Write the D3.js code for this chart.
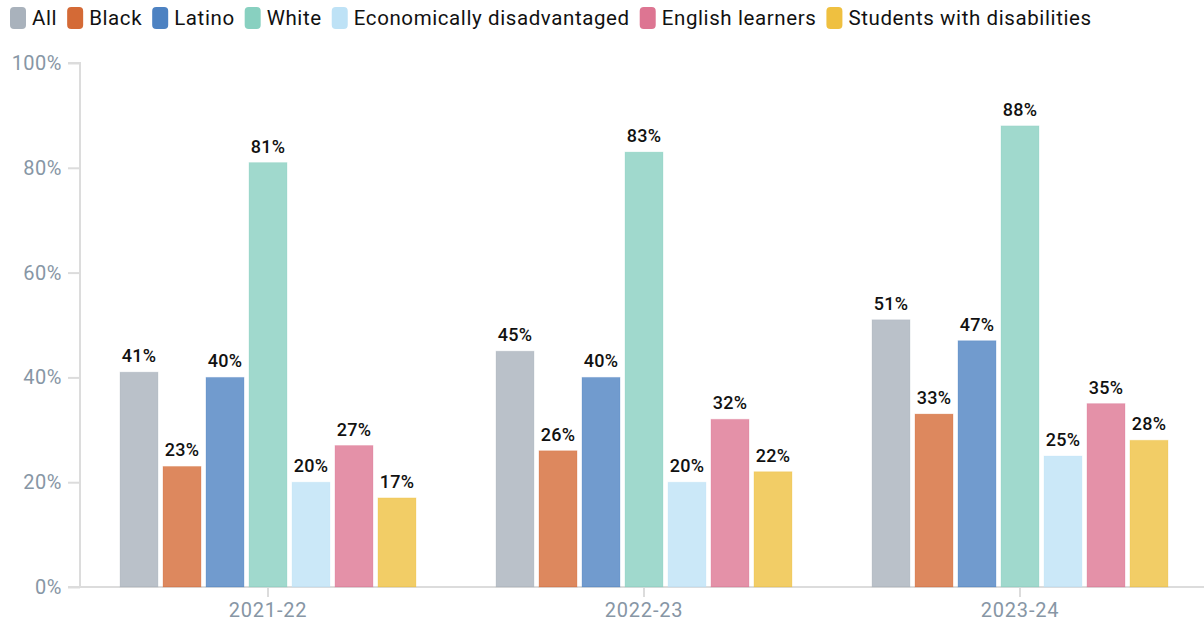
<!DOCTYPE html>
<html>
<head>
<meta charset="utf-8">
<script src="https://cdn.jsdelivr.net/npm/d3@7"></script>
<style>
  html, body { margin: 0; padding: 0; background: #fff; }
  svg { display: block; font-family: Roboto, Lato, sans-serif; }
</style>
</head>
<body>
<svg id="chart" width="1204" height="625"></svg>
<script>
// School years shown as groups
const years = ["2021-22", "2022-23", "2023-24"];
// Student groups (series)
const groups = ["All", "Black", "Latino", "White", "Economically disadvantaged", "English learners", "Students with disabilities"];
const colors = ["#a9b2bc", "#d46a36", "#4d82c2", "#88d0c0", "#bee2f6", "#dd7592", "#efc040"];
// Percent values per series, one entry per school year
const valAll = [41, 45, 51];
const valBlack = [23, 26, 33];
const valLatino = [40, 40, 47];
const valWhite = [81, 83, 88];
const valEcon = [20, 20, 25];
const valEL = [27, 32, 35];
const valSWD = [17, 22, 28];
const yTicks = [0, 20, 40, 60, 80, 100];

const seriesValues = [valAll, valBlack, valLatino, valWhite, valEcon, valEL, valSWD];

const svg = d3.select("#chart");
const axisColor = "#dcdcdc";
const tickText = "#8796a5";
const font = "Roboto, sans-serif";

const x0 = d3.scaleBand().domain(years).range([80, 1208]).paddingInner(0).paddingOuter(0);
const x1 = d3.scaleBand().domain(groups).range([40, x0.bandwidth() - 40]).paddingInner(0.116);
const y = d3.scaleLinear().domain([0, 100]).range([587, 63]);

// Y axis
const yAxis = svg.append("g").attr("transform", "translate(80,0)")
  .call(d3.axisLeft(y).tickValues(yTicks).tickFormat(d => d + "%").tickSize(12).tickPadding(6));
yAxis.select(".domain").attr("stroke", axisColor).attr("stroke-width", 2)
  .attr("d", "M-12,63H0V587");
yAxis.selectAll(".tick line").attr("stroke", axisColor).attr("stroke-width", 2);
yAxis.selectAll(".tick text").attr("fill", tickText).attr("font-size", 20).attr("font-weight", 400)
  .attr("letter-spacing", 0.5).attr("font-family", font);

// X axis
const xAxis = svg.append("g").attr("transform", "translate(0,587)")
  .call(d3.axisBottom(x0).tickSize(10).tickPadding(6));
xAxis.select(".domain").attr("stroke", axisColor).attr("stroke-width", 2).attr("d", "M68,0H1204");
xAxis.selectAll(".tick line").attr("stroke", axisColor).attr("stroke-width", 2);
xAxis.selectAll(".tick text").attr("fill", tickText).attr("font-size", 20).attr("font-weight", 400)
  .attr("letter-spacing", 0.8).attr("font-family", font);

// Bars
const rows = [];
years.forEach((yr, i) => groups.forEach((g, j) => rows.push({ year: yr, group: g, value: seriesValues[j][i], color: colors[j] })));

const bars = svg.append("g");
bars.selectAll("rect").data(rows).join("rect")
  .attr("x", d => x0(d.year) + x1(d.group))
  .attr("y", d => y(d.value))
  .attr("width", x1.bandwidth())
  .attr("height", d => y(0) - y(d.value))
  .attr("fill", d => d.color)
  .attr("fill-opacity", 0.8)
  .attr("stroke", d => d.color)
  .attr("stroke-opacity", 0.25)
  .attr("stroke-width", 1);

// Value labels
bars.selectAll("text").data(rows).join("text")
  .attr("x", d => x0(d.year) + x1(d.group) + x1.bandwidth() / 2)
  .attr("y", d => y(d.value) - 10)
  .attr("text-anchor", "middle")
  .attr("font-size", 18)
  .attr("font-weight", 500)
  .attr("letter-spacing", 0.2)
  .attr("fill", "#111")
  .text(d => d.value + "%");

// Legend
const legend = svg.append("g");
let lx = 10;
groups.forEach((g, j) => {
  const item = legend.append("g").attr("transform", `translate(${lx},0)`);
  item.append("rect").attr("x", 0).attr("y", 7).attr("width", 16).attr("height", 22).attr("rx", 4)
    .attr("fill", colors[j]);
  const t = item.append("text").attr("x", 22).attr("y", 25).attr("font-size", 20.5)
    .attr("letter-spacing", 0.6).attr("fill", "#111").text(g);
  lx += 22 + t.node().getComputedTextLength() + 10;
});
</script>
</body>
</html>
